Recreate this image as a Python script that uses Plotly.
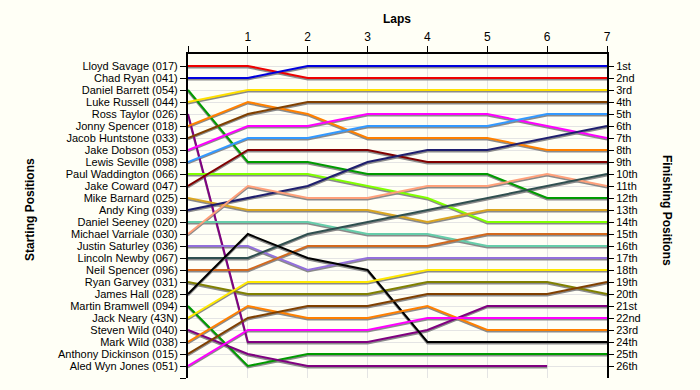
import plotly.graph_objects as go

# ---- data ----
laps = [0, 1, 2, 3, 4, 5, 6, 7]
lap_labels = ["", "1", "2", "3", "4", "5", "6", "7"]

riders = ["Lloyd Savage", "Chad Ryan", "Daniel Barrett", "Luke Russell", "Ross Taylor",
          "Jonny Spencer", "Jacob Huntstone", "Jake Dobson", "Lewis Seville",
          "Paul Waddington", "Jake Coward", "Mike Barnard", "Andy King", "Daniel Seeney",
          "Michael Varriale", "Justin Saturley", "Lincoln Newby", "Neil Spencer",
          "Ryan Garvey", "James Hall", "Martin Bramwell", "Jack Neary", "Steven Wild",
          "Mark Wild", "Anthony Dickinson", "Aled Wyn Jones"]
numbers = ["017", "041", "054", "044", "026", "018", "033", "053", "098", "066", "047",
           "025", "039", "020", "030", "036", "067", "096", "031", "028", "094", "43N",
           "040", "038", "015", "051"]

# position of each rider at lap 0..7 (None = did not complete)
positions = [
    [1, 1, 2, 2, 2, 2, 2, 2],          # Lloyd Savage
    [2, 2, 1, 1, 1, 1, 1, 1],          # Chad Ryan
    [3, 9, 9, 10, 10, 10, 12, 12],     # Daniel Barrett
    [4, 3, 3, 3, 3, 3, 3, 3],          # Luke Russell
    [5, 24, 24, 24, 23, 21, 21, 21],   # Ross Taylor
    [6, 4, 5, 7, 7, 7, 8, 8],          # Jonny Spencer
    [7, 5, 4, 4, 4, 4, 4, 4],          # Jacob Huntstone
    [8, 6, 6, 5, 5, 5, 6, 7],          # Jake Dobson
    [9, 7, 7, 6, 6, 6, 5, 5],          # Lewis Seville
    [10, 10, 10, 11, 12, 14, 14, 14],  # Paul Waddington
    [11, 8, 8, 8, 9, 9, 9, 9],         # Jake Coward
    [12, 13, 13, 13, 14, 13, 13, 13],  # Mike Barnard
    [13, 12, 11, 9, 8, 8, 7, 6],       # Andy King
    [14, 14, 14, 15, 15, 16, 16, 16],  # Daniel Seeney
    [15, 11, 12, 12, 11, 11, 10, 11],  # Michael Varriale
    [16, 16, 18, 17, 17, 17, 17, 17],  # Justin Saturley
    [17, 17, 15, 14, 13, 12, 11, 10],  # Lincoln Newby
    [18, 18, 16, 16, 16, 15, 15, 15],  # Neil Spencer
    [19, 20, 20, 20, 19, 19, 19, 20],  # Ryan Garvey
    [20, 15, 17, 18, 24, 24, 24, 24],  # James Hall
    [21, 26, 25, 25, 25, 25, 25, 25],  # Martin Bramwell
    [22, 19, 19, 19, 18, 18, 18, 18],  # Jack Neary
    [23, 25, 26, 26, 26, 26, 26, None],  # Steven Wild
    [24, 21, 22, 22, 21, 23, 23, 23],  # Mark Wild
    [25, 22, 21, 21, 20, 20, 20, 19],  # Anthony Dickinson
    [26, 23, 23, 23, 22, 22, 22, 22],  # Aled Wyn Jones
]

colors = ["#EE0000", "#0000DD", "#009A00", "#FFE000", "#800080", "#FF8000", "#804000",
          "#FF00FF", "#3399FF", "#80FF00", "#800000", "#DAA520", "#1E1E6E", "#66CDAA",
          "#FFA07A", "#9370DB", "#2F4F4F", "#D2691E", "#808000", "#000000", "#009A00",
          "#FFE800", "#800080", "#FF8000", "#804000", "#FF00FF"]

finish_labels = ["1st", "2nd", "3rd"] + [f"{i}th" for i in range(4, 21)] + \
                ["21st", "22nd", "23rd", "24th", "25th", "26th"]

start_labels = [f"{n} ({b})" for n, b in zip(riders, numbers)]
pos_vals = list(range(1, len(riders) + 1))

FONT = "Liberation Sans, Arial, sans-serif"
BG = "#FFFFF6"

fig = go.Figure()

# shadows
for name, ys in zip(riders, positions):
    fig.add_trace(go.Scatter(
        x=laps, y=[None if v is None else v + 0.12 for v in ys], mode="lines",
        line=dict(color="#8A8A8A", width=2), hoverinfo="skip", showlegend=False))

for name, ys, c in zip(riders, positions, colors):
    fig.add_trace(go.Scatter(
        x=laps, y=ys, mode="lines", name=name,
        line=dict(color=c, width=2), showlegend=False))

# invisible trace for right axis
fig.add_trace(go.Scatter(x=[0], y=[1], yaxis="y2", mode="markers",
                         marker=dict(opacity=0), hoverinfo="skip", showlegend=False))

L, R, T, B = 188, 93, 54, 12
pw, ph = 700 - L - R, 390 - T - B


def px_to_paper(px, py):
    return (px - L) / pw, (390 - B - py) / ph


lx, ly = px_to_paper(397, 19)
sx, sy = px_to_paper(30, 210)
fx, fy = px_to_paper(667, 210)

fig.update_layout(
    width=700, height=390,
    paper_bgcolor=BG, plot_bgcolor=BG,
    margin=dict(l=L, r=R, t=T, b=B),
    font=dict(family=FONT, size=11, color="#000000"),
    xaxis=dict(side="top", range=[0, 7], tickmode="array", tickvals=laps,
               ticktext=lap_labels, showgrid=True, gridcolor="#E4E4E4", gridwidth=1,
               showline=True, linecolor="#000000", linewidth=2,
               ticks="outside", ticklen=6, tickcolor="#000000",
               tickfont=dict(size=12), zeroline=False),
    yaxis=dict(range=[27, 0], tickmode="array", tickvals=pos_vals + [27],
               ticktext=start_labels + [""],
               showgrid=True, gridcolor="#E4E4E4", gridwidth=1,
               showline=True, linecolor="#000000", linewidth=2,
               ticks="outside", ticklen=6, tickcolor="#000000", zeroline=False),
    yaxis2=dict(range=[27, 0], overlaying="y", side="right", tickmode="array",
                tickvals=pos_vals, ticktext=finish_labels, showgrid=False,
                showline=True, linecolor="#000000", linewidth=2,
                ticks="outside", ticklen=5, tickcolor="#000000", zeroline=False),
    annotations=[
        dict(text="<b>Laps</b>", x=lx, y=ly, xref="paper", yref="paper",
             xanchor="center", yanchor="middle", showarrow=False, font=dict(size=12)),
        dict(text="<b>Starting Positions</b>", x=sx, y=sy, xref="paper", yref="paper",
             xanchor="center", yanchor="middle", textangle=-90,
             showarrow=False, font=dict(size=12)),
        dict(text="<b>Finishing Positions</b>", x=fx, y=fy, xref="paper", yref="paper",
             xanchor="center", yanchor="middle", textangle=90,
             showarrow=False, font=dict(size=12)),
    ],
)

fig.write_html("out.html", config={"displayModeBar": False},
               post_script="document.body.style.margin='0';document.body.style.background='" + BG + "';")
